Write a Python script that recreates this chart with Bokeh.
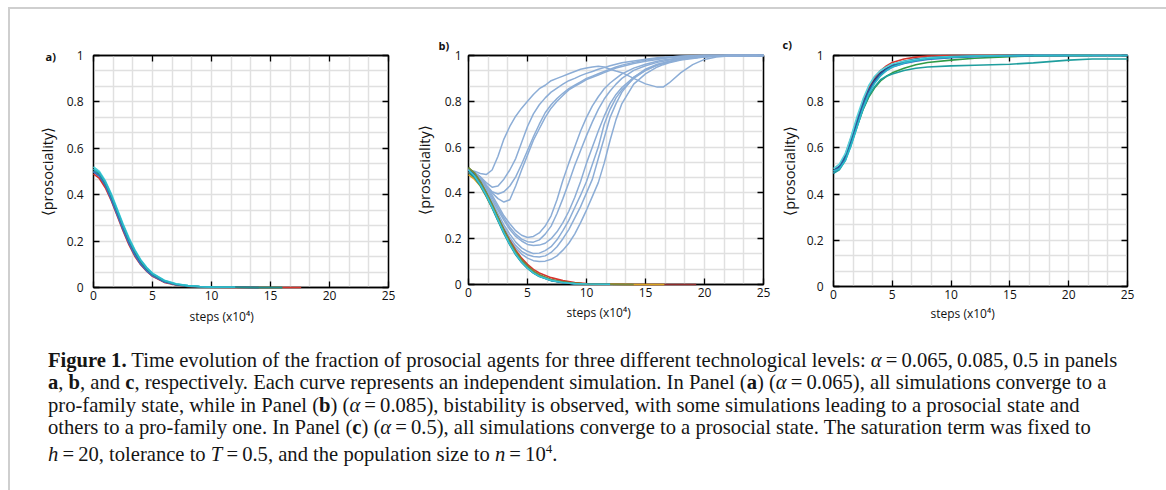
from bokeh.plotting import figure
from bokeh.models import (LinearAxis, FixedTicker, SingleIntervalTicker, Title, Div, Range1d,
                          CustomLabelingPolicy)
from bokeh.layouts import row, column
from bokeh.embed import file_html
from bokeh.resources import INLINE

# ---------------- data ----------------
X_TICKS = [0, 5, 10, 15, 20, 25]
Y_TICKS = [0, 0.2, 0.4, 0.6, 0.8, 1]
Y_TICK_LABELS = ["0", "0.2", "0.4", "0.6", "0.8", "1"]
X_LABEL = "steps (x10\u2074)"
Y_LABEL = "\u27e8prosociality\u27e9"
PANEL_LABELS = ["a)", "b)", "c)"]

# Panel a (alpha = 0.065): all runs go to the pro-family state
A_X = [0, 0.5, 1, 1.5, 2, 2.5, 3, 3.5, 4, 4.5, 5, 6, 7, 8, 9, 10, 12, 14, 16, 17.6]
A_CURVES = [
    [0.50, 0.48, 0.44, 0.385, 0.32, 0.255, 0.195, 0.145, 0.105, 0.075, 0.052, 0.025, 0.012, 0.006, 0.003, 0.002, 0.001, 0, 0, 0],
    [0.49, 0.47, 0.43, 0.375, 0.31, 0.245, 0.185, 0.135, 0.098, 0.070, 0.048, 0.022, 0.011, 0.005, 0.003, 0.001, 0, 0, 0, 0],
    [0.50, 0.485, 0.445, 0.39, 0.33, 0.265, 0.205, 0.155, 0.112, 0.080, 0.056, 0.027, 0.013, 0.006, 0.003, 0.002, 0.001, 0, 0, 0],
    [0.50, 0.48, 0.44, 0.38, 0.315, 0.25, 0.19, 0.14, 0.10, 0.072, 0.05, 0.024, 0.012, 0.006, 0.003, 0.002, 0.001, 0, 0, 0],
    [0.51, 0.49, 0.45, 0.395, 0.33, 0.265, 0.205, 0.155, 0.113, 0.081, 0.057, 0.028, 0.014, 0.007, 0.004, 0.002, 0.001, 0, 0, 0],
    [0.52, 0.50, 0.46, 0.405, 0.34, 0.275, 0.215, 0.163, 0.12, 0.087, 0.062, 0.031, 0.016, 0.008, 0.004, 0.002, 0.001, 0, 0, 0],
    [0.51, 0.495, 0.455, 0.40, 0.335, 0.27, 0.21, 0.16, 0.117, 0.085, 0.06, 0.03, 0.015, 0.008, 0.004, 0.002, 0.001, 0, 0, 0],
]
A_ENDS = [15, 17.6, 17, 14, 16, 12, 13]

# Panel b (alpha = 0.085): bistability
B_FAMILY_X = [0, 0.5, 1, 1.5, 2, 2.5, 3, 3.5, 4, 4.5, 5, 5.5, 6, 7, 8, 9, 10, 12, 14, 16.6, 19.3]
B_FAMILY = [
    [0.49, 0.47, 0.435, 0.39, 0.34, 0.29, 0.24, 0.192, 0.15, 0.115, 0.088, 0.066, 0.05, 0.03, 0.017, 0.009, 0.004, 0.001, 0, 0, 0],
    [0.50, 0.475, 0.44, 0.395, 0.345, 0.29, 0.235, 0.185, 0.14, 0.105, 0.078, 0.056, 0.04, 0.02, 0.01, 0.005, 0.002, 0.001, 0, 0, 0],
    [0.48, 0.46, 0.43, 0.385, 0.335, 0.28, 0.228, 0.18, 0.137, 0.102, 0.076, 0.055, 0.039, 0.02, 0.01, 0.005, 0.002, 0.001, 0, 0, 0],
    [0.51, 0.485, 0.447, 0.40, 0.348, 0.292, 0.236, 0.186, 0.141, 0.106, 0.079, 0.057, 0.041, 0.021, 0.011, 0.005, 0.002, 0.001, 0, 0, 0],
    [0.50, 0.478, 0.442, 0.396, 0.343, 0.286, 0.23, 0.18, 0.136, 0.1, 0.073, 0.052, 0.037, 0.018, 0.009, 0.004, 0.002, 0.001, 0, 0, 0],
    [0.49, 0.468, 0.432, 0.386, 0.334, 0.278, 0.222, 0.173, 0.13, 0.096, 0.07, 0.05, 0.035, 0.017, 0.008, 0.004, 0.002, 0.001, 0, 0, 0],
    [0.50, 0.476, 0.44, 0.394, 0.342, 0.285, 0.229, 0.179, 0.135, 0.1, 0.074, 0.053, 0.038, 0.019, 0.009, 0.004, 0.002, 0.001, 0, 0, 0],
    [0.51, 0.488, 0.45, 0.402, 0.35, 0.294, 0.238, 0.188, 0.143, 0.108, 0.08, 0.058, 0.042, 0.021, 0.011, 0.005, 0.002, 0.001, 0, 0, 0],
    [0.50, 0.474, 0.436, 0.39, 0.338, 0.282, 0.226, 0.176, 0.133, 0.098, 0.072, 0.051, 0.036, 0.018, 0.009, 0.004, 0.002, 0.001, 0, 0, 0],
]
B_FAMILY_ENDS = [10, 19.3, 16.6, 12, 12, 11, 12, 14, 12]

B_SOCIAL_X = [0, 0.5, 1, 1.5, 2, 2.5, 3, 3.5, 4, 4.5, 5, 5.5, 6, 6.5, 7, 7.5, 8, 8.5, 9, 9.5,
              10, 10.5, 11, 11.5, 12, 12.5, 13, 14, 15, 16, 16.5, 17, 18, 19, 20, 21, 22, 25]
B_SOCIAL = [
    [0.50, 0.495, 0.485, 0.48, 0.50, 0.56, 0.635, 0.69, 0.735, 0.77, 0.80, 0.83, 0.855, 0.87, 0.89, 0.90, 0.91, 0.92, 0.93, 0.94,
     0.945, 0.95, 0.953, 0.95, 0.94, 0.932, 0.925, 0.90, 0.876, 0.862, 0.862, 0.88, 0.925, 0.96, 0.983, 0.993, 0.998, 1],
    [0.50, 0.49, 0.47, 0.445, 0.425, 0.43, 0.46, 0.50, 0.55, 0.62, 0.69, 0.745, 0.785, 0.815, 0.84, 0.858, 0.875, 0.89, 0.90, 0.912,
     0.922, 0.93, 0.94, 0.947, 0.955, 0.962, 0.968, 0.976, 0.984, 0.99, 0.992, 0.994, 0.997, 0.999, 1, 1, 1, 1],
    [0.50, 0.49, 0.465, 0.435, 0.405, 0.395, 0.405, 0.43, 0.47, 0.525, 0.585, 0.645, 0.70, 0.75, 0.785, 0.812, 0.835, 0.855, 0.87, 0.885,
     0.90, 0.91, 0.92, 0.93, 0.94, 0.95, 0.958, 0.97, 0.98, 0.987, 0.99, 0.993, 0.997, 0.999, 1, 1, 1, 1],
    [0.50, 0.49, 0.465, 0.43, 0.40, 0.375, 0.36, 0.37, 0.43, 0.50, 0.565, 0.63, 0.68, 0.73, 0.77, 0.80, 0.825, 0.85, 0.865, 0.88,
     0.895, 0.905, 0.915, 0.925, 0.935, 0.945, 0.952, 0.965, 0.975, 0.983, 0.987, 0.99, 0.995, 0.998, 1, 1, 1, 1],
    [0.50, 0.49, 0.47, 0.43, 0.39, 0.345, 0.30, 0.265, 0.235, 0.215, 0.205, 0.21, 0.225, 0.255, 0.30, 0.37, 0.455, 0.53, 0.60, 0.67,
     0.73, 0.78, 0.82, 0.855, 0.88, 0.90, 0.92, 0.945, 0.962, 0.975, 0.98, 0.984, 0.99, 0.994, 0.997, 0.999, 1, 1],
    [0.50, 0.49, 0.465, 0.425, 0.38, 0.335, 0.29, 0.25, 0.22, 0.198, 0.187, 0.185, 0.195, 0.22, 0.255, 0.31, 0.375, 0.445, 0.52, 0.585,
     0.65, 0.71, 0.765, 0.81, 0.845, 0.875, 0.90, 0.935, 0.955, 0.97, 0.975, 0.98, 0.988, 0.993, 0.996, 0.999, 1, 1],
    [0.50, 0.49, 0.46, 0.42, 0.37, 0.325, 0.28, 0.24, 0.21, 0.19, 0.175, 0.17, 0.172, 0.18, 0.20, 0.23, 0.27, 0.32, 0.38, 0.45,
     0.53, 0.60, 0.67, 0.735, 0.79, 0.83, 0.86, 0.905, 0.935, 0.958, 0.965, 0.972, 0.983, 0.99, 0.995, 0.998, 1, 1],
    [0.50, 0.485, 0.455, 0.41, 0.36, 0.31, 0.26, 0.22, 0.185, 0.16, 0.145, 0.135, 0.137, 0.148, 0.165, 0.195, 0.235, 0.28, 0.335, 0.39,
     0.45, 0.525, 0.60, 0.70, 0.765, 0.815, 0.85, 0.90, 0.935, 0.958, 0.965, 0.972, 0.984, 0.99, 0.995, 0.998, 1, 1],
    [0.50, 0.485, 0.45, 0.40, 0.35, 0.30, 0.25, 0.205, 0.17, 0.145, 0.13, 0.122, 0.12, 0.125, 0.14, 0.165, 0.20, 0.24, 0.29, 0.34,
     0.40, 0.46, 0.55, 0.64, 0.73, 0.79, 0.84, 0.905, 0.94, 0.962, 0.968, 0.975, 0.985, 0.99, 0.995, 0.998, 1, 1],
    [0.50, 0.485, 0.45, 0.40, 0.345, 0.29, 0.24, 0.195, 0.16, 0.133, 0.115, 0.104, 0.10, 0.102, 0.11, 0.125, 0.15, 0.18, 0.22, 0.27,
     0.325, 0.385, 0.445, 0.53, 0.63, 0.72, 0.79, 0.875, 0.92, 0.95, 0.96, 0.968, 0.98, 0.987, 0.993, 0.997, 0.999, 1],
]

# Panel c (alpha = 0.5): all runs go to the prosocial state
C_X = [0, 0.5, 1, 1.5, 2, 2.5, 3, 3.5, 4, 4.5, 5, 6, 7, 8, 10, 12, 15, 17, 20, 22, 25]
C_CURVES = [
    [0.50, 0.52, 0.57, 0.645, 0.725, 0.80, 0.86, 0.905, 0.935, 0.955, 0.97, 0.985, 0.993, 0.998, 1, 1, 1, 1, 1, 1, 1],
    [0.50, 0.515, 0.555, 0.62, 0.695, 0.765, 0.82, 0.86, 0.89, 0.91, 0.925, 0.945, 0.96, 0.97, 0.98, 0.988, 0.995, 0.998, 1, 1, 1],
    [0.49, 0.51, 0.55, 0.62, 0.70, 0.78, 0.84, 0.885, 0.915, 0.935, 0.95, 0.965, 0.975, 0.983, 0.99, 0.995, 0.998, 1, 1, 1, 1],
    [0.50, 0.52, 0.565, 0.64, 0.72, 0.79, 0.85, 0.895, 0.925, 0.945, 0.96, 0.975, 0.985, 0.99, 0.995, 0.998, 1, 1, 1, 1, 1],
    [0.50, 0.52, 0.56, 0.635, 0.715, 0.79, 0.85, 0.89, 0.92, 0.94, 0.955, 0.97, 0.98, 0.987, 0.993, 0.997, 0.999, 1, 1, 1, 1],
    [0.49, 0.505, 0.545, 0.615, 0.69, 0.765, 0.825, 0.865, 0.895, 0.91, 0.92, 0.935, 0.945, 0.95, 0.955, 0.958, 0.962, 0.968, 0.98, 0.985, 0.985],
    [0.51, 0.53, 0.575, 0.65, 0.735, 0.81, 0.87, 0.91, 0.935, 0.95, 0.963, 0.975, 0.983, 0.99, 0.995, 0.998, 1, 1, 1, 1, 1],
    [0.50, 0.51, 0.545, 0.61, 0.69, 0.77, 0.835, 0.88, 0.912, 0.935, 0.95, 0.968, 0.978, 0.986, 0.993, 0.997, 0.999, 1, 1, 1, 1],
]
C_ENDS = [17, 22, 20, 18, 25, 25, 25, 25]

CAPTION_LINES = [
    "<b>Figure 1.</b> Time evolution of the fraction of prosocial agents for three different technological levels: "
    "<i>\u03b1</i>&#8201;=&#8201;0.065,&#8201;0.085,&#8201;0.5 in panels",
    "<b>a</b>, <b>b</b>, and <b>c</b>, respectively. Each curve represents an independent simulation. "
    "In Panel (<b>a</b>) (<i>\u03b1</i>&#8201;=&#8201;0.065), all simulations converge to a",
    "pro-family state, while in Panel (<b>b</b>) (<i>\u03b1</i>&#8201;=&#8201;0.085), bistability is observed, "
    "with some simulations leading to a prosocial state and",
    "others to a pro-family one. In Panel (<b>c</b>) (<i>\u03b1</i>&#8201;=&#8201;0.5), all simulations converge "
    "to a prosocial state. The saturation term was fixed to",
    "<i>h</i>&#8201;=&#8201;20, tolerance to <i>T</i>&#8201;=&#8201;0.5, and the population size to "
    "<i>n</i>&#8201;=&#8201;10<sup style='font-size:13px'>4</sup>.",
]

# ---------------- styling ----------------
A_COLORS = ["#2c3e8c", "#d6342c", "#2f9a45", "#3a6fc4", "#1f8d8a", "#49d2da", "#2ab7c9"]
B_FAMILY_COLORS = ["#d6342c", "#8e2a2a", "#d9a21f", "#2f9a45", "#2c3e8c", "#1f8d8a", "#3a6fc4", "#7a8a3a", "#35c3d3"]
B_SOCIAL_COLOR = "#8cadd6"
C_COLORS = ["#d6342c", "#2f9a45", "#3a6fc4", "#1e2f66", "#2c5aa0", "#1f9e9e", "#55d3dc", "#2ab7c9"]

TICK_FONT = "Open Sans"
GRID_COLOR = "#e0e0e0"


def make_panel(frame_w, frame_h, left, right, top, bottom, tick_standoff, label_standoff,
               letter, letter_offset, letter_standoff, xlabel_offset, xlabel_standoff):
    p = figure(frame_width=frame_w, frame_height=frame_h,
               min_border_left=left, min_border_right=right,
               min_border_top=top, min_border_bottom=bottom,
               x_range=Range1d(0, 25), y_range=Range1d(0, 1),
               output_backend="svg", toolbar_location=None, tools="")
    p.outline_line_color = "black"
    p.outline_line_width = 1.3
    p.background_fill_color = "white"
    p.border_fill_color = "white"

    xa = p.xaxis[0]
    xa.ticker = FixedTicker(ticks=X_TICKS)
    ya = p.yaxis[0]
    ya.ticker = FixedTicker(ticks=Y_TICKS)
    ya.major_label_overrides = {t: s for t, s in zip(Y_TICKS, Y_TICK_LABELS)}
    ya.axis_label = Y_LABEL
    for ax in (xa, ya):
        ax.major_tick_in = 6
        ax.major_tick_out = 0
        ax.minor_tick_in = 0
        ax.minor_tick_out = 0
        ax.axis_line_color = "black"
        ax.axis_line_width = 1.3
        ax.major_tick_line_width = 1.3
        ax.major_label_text_font = TICK_FONT
        ax.major_label_text_font_size = "12px"
        ax.major_label_text_color = "#111111"
        ax.axis_label_text_font = TICK_FONT
        ax.axis_label_text_font_style = "normal"
        ax.axis_label_text_color = "#111111"
    ya.axis_label_text_font_size = "14.5px"
    xa.major_label_standoff = 3
    ya.major_label_standoff = tick_standoff
    ya.axis_label_standoff = label_standoff

    # mirrored tick marks on top and right, without labels
    no_labels = CustomLabelingPolicy(code="return []")
    top_ax = LinearAxis(ticker=FixedTicker(ticks=X_TICKS), major_label_policy=no_labels,
                        major_label_text_font_size="0px",
                        major_label_standoff=0, major_tick_in=6, major_tick_out=0,
                        minor_tick_in=0, minor_tick_out=0, axis_line_color="black",
                        axis_line_width=1.3, major_tick_line_width=1.3)
    right_ax = LinearAxis(ticker=FixedTicker(ticks=Y_TICKS), major_label_policy=no_labels,
                          major_label_text_font_size="0px",
                          major_label_standoff=0, major_tick_in=6, major_tick_out=0,
                          minor_tick_in=0, minor_tick_out=0, axis_line_color="black",
                          axis_line_width=1.3, major_tick_line_width=1.3)
    p.add_layout(top_ax, "above")
    p.add_layout(right_ax, "right")

    # panel letter (above the frame) and x-axis title (below the tick labels)
    p.add_layout(Title(text=letter, align="left", offset=letter_offset, standoff=letter_standoff,
                       text_font=TICK_FONT, text_font_size="11px", text_font_style="bold",
                       text_color="#111111"), "above")
    p.add_layout(Title(text=X_LABEL, align="left", offset=xlabel_offset, standoff=xlabel_standoff,
                       text_font=TICK_FONT, text_font_size="12px", text_font_style="normal",
                       text_color="#111111", vertical_align="top"), "below")

    p.xgrid.ticker = SingleIntervalTicker(interval=5 / 3, num_minor_ticks=0)
    p.ygrid.ticker = SingleIntervalTicker(interval=0.2 / 3, num_minor_ticks=0)
    for g in (p.xgrid[0], p.ygrid[0]):
        g.grid_line_color = GRID_COLOR
        g.grid_line_width = 1.5
    return p


def draw(p, xs, ys, end, color, width=1.6):
    px = [x for x in xs if x <= end]
    p.line(px, ys[:len(px)], line_color=color, line_width=width, level="overlay")


# panel a
pa = make_panel(295, 232, 83, 22, 46, 48, 10, 7, PANEL_LABELS[0], -48, -17, 96, 11)
for ys, end, col in zip(A_CURVES, A_ENDS, A_COLORS):
    draw(pa, A_X, ys, end, col)

# panel b
pb = make_panel(295, 229, 58, 12, 44, 53, 7, 8, PANEL_LABELS[1], -30, 5, 98, 9)
for ys in B_SOCIAL:
    draw(pb, B_SOCIAL_X, ys, 25, B_SOCIAL_COLOR, 1.5)
for ys, end, col in zip(B_FAMILY, B_FAMILY_ENDS, B_FAMILY_COLORS):
    draw(pb, B_FAMILY_X, ys, end, col)

# panel c
pc = make_panel(294, 231, 58, 30, 44, 51, 10, 5, PANEL_LABELS[2], -51, 7, 97, 6)
for ys, end, col in zip(C_CURVES, C_ENDS, C_COLORS):
    draw(pc, C_X, ys, end, col)

caption = Div(text="<br>".join(CAPTION_LINES), width=1120, height=150, margin=(14, 0, 0, 38),
              styles={"font-family": "'Liberation Serif', serif", "font-size": "20.6px",
                      "line-height": "22.3px", "white-space": "nowrap", "color": "#151515"})

layout = column(row(pa, pb, pc, spacing=0), caption, spacing=0,
                margin=(7, 0, 0, 8),
                styles={"border": "2px solid #cfcfcf", "background-color": "white"})

open("out.html", "w").write(file_html(layout, INLINE))
